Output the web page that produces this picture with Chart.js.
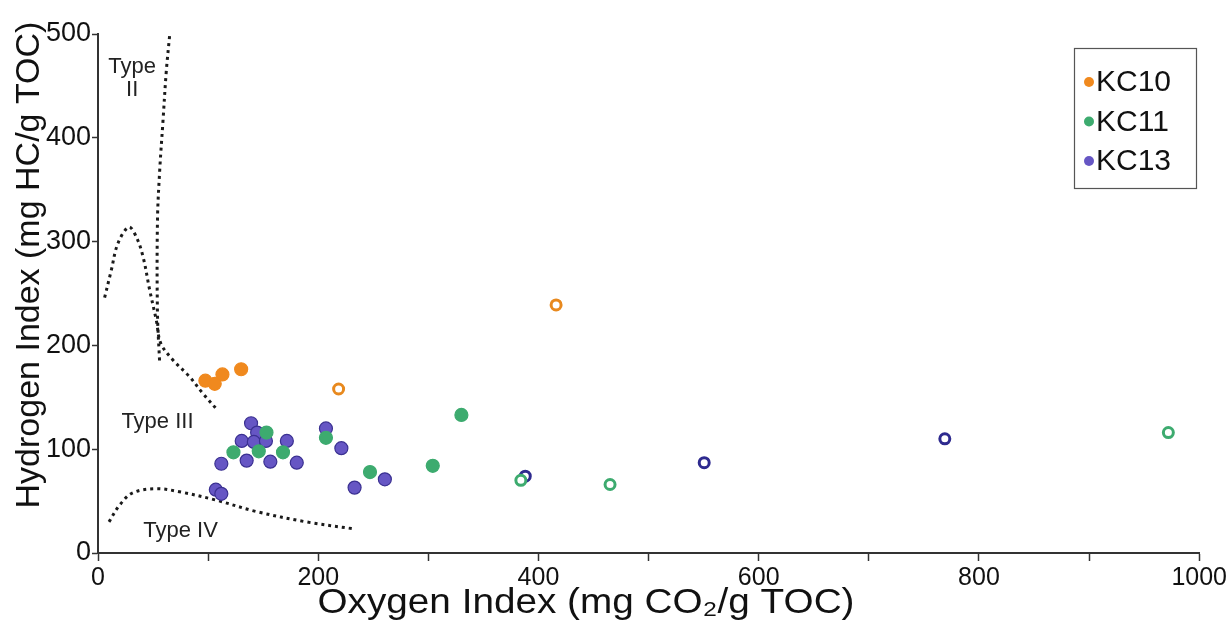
<!DOCTYPE html>
<html><head><meta charset="utf-8">
<script src="https://cdn.jsdelivr.net/npm/chart.js@4.4.1/dist/chart.umd.min.js"></script>
<style>html,body{margin:0;padding:0;background:#fff;}</style>
</head><body>
<canvas id="c" width="1229" height="621"></canvas>
<script>
// ---- data ----
const seriesNames = ['KC10', 'KC11', 'KC13'];
const kc10X = [97.5, 106, 113, 130];
const kc10Y = [166, 163, 172, 177];
const kc10OpenX = [218.5, 416];
const kc10OpenY = [158, 239];
const kc11X = [153, 123, 146, 168, 207, 247, 304, 330];
const kc11Y = [116, 97, 98, 97, 111, 78, 84, 133];
const kc11OpenX = [384, 465, 972];
const kc11OpenY = [70, 66, 116];
const kc13X = [139, 144.5, 130.5, 141.5, 152.5, 171.5, 112, 135, 156.5, 180.5, 107, 112, 207, 221, 233, 260.5];
const kc13Y = [125, 116, 108, 107, 108, 108, 86, 89, 88, 87, 61, 57, 120, 101, 63, 71];
const kc13OpenX = [388, 550.5, 769];
const kc13OpenY = [74, 87, 110];
// kerogen type boundary curves
const typeIIX = [65, 62, 59, 56, 54, 54, 56];
const typeIIY = [498, 464, 416, 368, 320, 231, 183];
const typeIIIX = [6, 12, 18, 28, 35, 41, 47, 53, 57, 68, 83, 95, 109];
const typeIIIY = [246, 272, 298, 314, 304, 285, 253, 224, 202, 186, 170, 154, 137];
const typeIVX = [10, 19.5, 31.6, 52.8, 74, 107, 143.5, 189, 234];
const typeIVY = [30, 46, 58, 62, 59, 51, 40, 30, 23];
// region labels (data coordinates)
const regionLabels = [
  {text: 'Type', x: 31, y: 468},
  {text: 'II', x: 31, y: 446},
  {text: 'Type III', x: 54, y: 126},
  {text: 'Type IV', x: 75, y: 21}
];
const xTicks = [0, 200, 400, 600, 800, 1000];
const yTicks = [0, 100, 200, 300, 400, 500];
const xTitle = 'Oxygen Index (mg CO\u2082/g TOC)';
const yTitle = 'Hydrogen Index (mg HC/g TOC)';

const colors = {KC10: '#F0891E', KC11: '#3DAB6F', KC13: '#6656C4'};
const FONT = '"Liberation Sans", Arial, sans-serif';
const zip = (xs, ys) => xs.map((x, i) => ({x, y: ys[i]}));

const filled = (label, xs, ys, c, border) => ({
  label, data: zip(xs, ys), showLine: false, order: 0,
  pointRadius: 6.5, pointBackgroundColor: c, pointBorderColor: border || c, pointBorderWidth: 1.2
});
const open = (label, xs, ys, c) => ({
  label, data: zip(xs, ys), showLine: false, order: 0,
  pointRadius: 5, pointBackgroundColor: '#fff', pointBorderColor: c, pointBorderWidth: 3
});
const curve = (label, xs, ys) => ({
  label, data: zip(xs, ys), showLine: true, order: 10, pointRadius: 0,
  borderColor: '#1a1a1a', borderWidth: 3, borderDash: [3, 4], tension: 0.35, fill: false
});

const overlay = {
  id: 'overlay',
  afterDatasetsDraw(chart) {
    const {ctx, scales: {x, y}} = chart;
    ctx.save();
    ctx.fillStyle = '#222';
    ctx.font = '22px ' + FONT;
    ctx.textAlign = 'center';
    ctx.textBaseline = 'middle';
    regionLabels.forEach(l => ctx.fillText(l.text, x.getPixelForValue(l.x), y.getPixelForValue(l.y)));
    // axis titles
    ctx.fillStyle = '#111';
    ctx.font = '35px ' + FONT;
    const w = ctx.measureText(xTitle).width;
    ctx.save();
    ctx.translate(586, 603);
    ctx.scale(537 / w, 1);
    ctx.fillText(xTitle, 0, 0);
    ctx.restore();
    ctx.save();
    ctx.translate(30, 265);
    ctx.rotate(-Math.PI / 2);
    ctx.font = '34px ' + FONT;
    ctx.fillText(yTitle, 0, 0);
    ctx.restore();
    // legend box
    const bx = 1074, by = 48, bw = 122, bh = 140;
    ctx.strokeStyle = '#555';
    ctx.lineWidth = 1.2;
    ctx.strokeRect(bx + 0.5, by + 0.5, bw, bh);
    ctx.textAlign = 'left';
    ctx.font = '30px ' + FONT;
    seriesNames.forEach((n, i) => {
      const cy = by + 34 + i * 39.5;
      ctx.beginPath();
      ctx.arc(bx + 15, cy, 5, 0, Math.PI * 2);
      ctx.fillStyle = colors[n];
      ctx.fill();
      ctx.fillStyle = '#111';
      ctx.fillText(n, bx + 22, cy + 1);
    });
    ctx.restore();
  }
};

new Chart(document.getElementById('c'), {
  type: 'scatter',
  data: {
    datasets: [
      curve('Type II', typeIIX, typeIIY),
      curve('Type III', typeIIIX, typeIIIY),
      curve('Type IV', typeIVX, typeIVY),
      filled('KC10', kc10X, kc10Y, colors.KC10),
      open('KC10 open', kc10OpenX, kc10OpenY, '#E8891E'),
      filled('KC11', kc11X, kc11Y, colors.KC11),
      open('KC11 open', kc11OpenX, kc11OpenY, '#3DAB6F'),
      filled('KC13', kc13X, kc13Y, colors.KC13, '#3B3192'),
      open('KC13 open', kc13OpenX, kc13OpenY, '#2E2A8F')
    ]
  },
  options: {
    responsive: false,
    animation: false,
    devicePixelRatio: 1,
    layout: {padding: {left: 0, right: 29, top: 34, bottom: 0}},
    plugins: {legend: {display: false}, tooltip: {enabled: false}},
    scales: {
      x: {
        type: 'linear', min: 0, max: 1000,
        afterFit: s => { s.height = 68; },
        afterBuildTicks: s => { s.ticks = [...Array(11)].map((_, i) => ({value: i * 100})); },
        ticks: {
          autoSkip: false, maxRotation: 0, color: '#111', padding: 2,
          font: {family: FONT, size: 25},
          callback: v => xTicks.includes(v) ? String(v) : ''
        },
        grid: {drawOnChartArea: false, drawTicks: true, tickLength: 8, color: '#333', tickWidth: 1.5},
        border: {color: '#333', width: 2},
        title: {display: false}
      },
      y: {
        type: 'linear', min: 0, max: 500,
        afterFit: s => { s.width = 98; },
        afterBuildTicks: s => { s.ticks = yTicks.map(v => ({value: v})); },
        ticks: {color: '#111', padding: 1, font: {family: FONT, size: 27}},
        grid: {drawOnChartArea: false, drawTicks: true, tickLength: 6, color: '#333', tickWidth: 1.5},
        border: {color: '#333', width: 2},
        title: {display: false}
      }
    }
  },
  plugins: [overlay]
});
</script>
</body></html>
